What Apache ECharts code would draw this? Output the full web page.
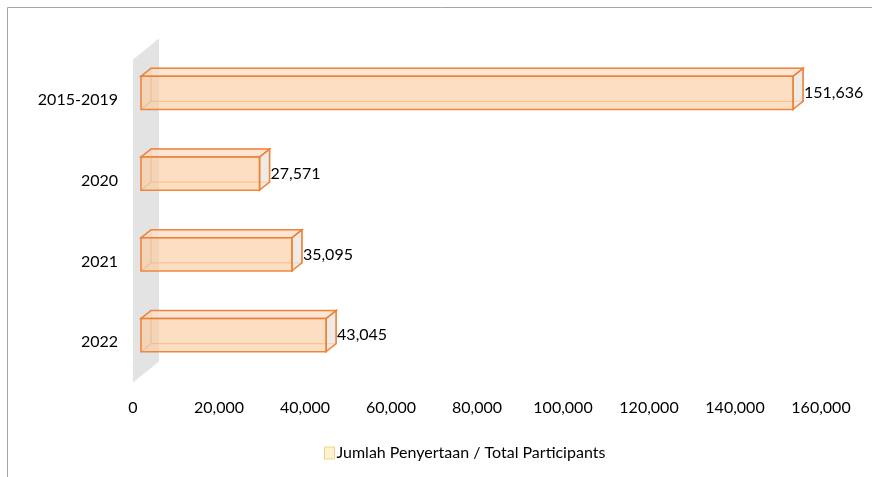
<!DOCTYPE html>
<html>
<head>
<meta charset="utf-8">
<script src="https://cdn.jsdelivr.net/npm/echarts@6/dist/echarts.min.js"></script>
<style>
  html, body { margin: 0; padding: 0; background: #fff; }
  #chart { width: 872px; height: 477px; }
</style>
</head>
<body>
<div id="chart"></div>
<script>
const categories = ['2015-2019', '2020', '2021', '2022']
const participants = [151636, 27571, 35095, 43045]
const xTicks = [0, 20000, 40000, 60000, 80000, 100000, 120000, 140000, 160000]
const seriesName = 'Jumlah Penyertaan / Total Participants'

const FONT = 'Lato'
const ORANGE = '#ed7d31'
// front face offset from floor front, and box depth (pixels)
const FX = 8, FY = -7, DX = 10, DY = -8
const WALL_DX = 26, WALL_DY = -21

const fmt = v => v.toLocaleString('en-US')

const chart = echarts.init(document.getElementById('chart'))

const renderBox = (params, api) => {
  const cat = api.value(0)
  const val = api.value(1)
  const p0 = api.coord([0, cat])
  const p1 = api.coord([val, cat])
  const h = api.size([0, 1])[1] * 0.41
  const xl = p0[0] + FX, xr = p1[0] + FX
  const yt = p0[1] + FY - h / 2, yb = yt + h
  const edge = { stroke: ORANGE, lineWidth: 1.6, opacity: 0.9 }
  const faint = { stroke: 'rgba(237,125,49,0.6)', lineWidth: 1.3, fill: null }
  return {
    type: 'group',
    children: [
      // back face (seen through)
      { type: 'polygon', shape: { points: [[xl + DX, yt + DY], [xr + DX, yt + DY], [xr + DX, yb + DY], [xl + DX, yb + DY]] },
        style: { fill: 'rgba(250,205,160,0.45)', ...faint } },
      { type: 'line', shape: { x1: xl, y1: yb, x2: xl + DX, y2: yb + DY }, style: faint },
      // top face
      { type: 'polygon', shape: { points: [[xl, yt], [xr, yt], [xr + DX, yt + DY], [xl + DX, yt + DY]] },
        style: { fill: 'rgba(250,222,200,0.85)', ...edge } },
      // right face
      { type: 'polygon', shape: { points: [[xr, yt], [xr + DX, yt + DY], [xr + DX, yb + DY], [xr, yb]] },
        style: { fill: 'rgba(236,228,222,0.85)', ...edge } },
      // front face
      { type: 'rect', shape: { x: xl, y: yt, width: xr - xl, height: h },
        style: { fill: 'rgba(251,205,160,0.7)', ...edge } },
      { type: 'text', style: { x: xr + DX + 1, y: yt + h / 2, text: fmt(val), fill: '#000',
        font: '16px ' + FONT, verticalAlign: 'middle', align: 'left' } }
    ]
  }
}

const renderWall = (params) => {
  const cs = params.coordSys
  const x = cs.x, y = cs.y, hh = cs.height
  return {
    type: 'polygon',
    shape: { points: [[x, y + hh], [x, y], [x + WALL_DX, y + WALL_DY], [x + WALL_DX, y + hh + WALL_DY]] },
    style: { fill: '#e3e3e3' },
    silent: true
  }
}

chart.setOption({
  animation: false,
  textStyle: { fontFamily: FONT },
  graphic: [{
    type: 'rect', shape: { x: 7.5, y: 7.5, width: 900, height: 500 },
    style: { fill: null, stroke: '#a6a6a6', lineWidth: 1 }, z: -10
  }],
  grid: { left: 133, right: 51, top: 59.5, bottom: 94.5 },
  legend: {
    data: [seriesName],
    left: 319, top: 440,
    icon: 'rect', itemWidth: 10, itemHeight: 12, itemGap: 4,
    textStyle: { fontFamily: FONT, fontSize: 16, color: '#000', padding: [0, 0, 0, -3] },
    itemStyle: { color: '#fff2cc', borderColor: '#f6d08a', borderWidth: 1 }
  },
  xAxis: {
    type: 'value',
    min: 0, max: 160000, interval: 20000,
    axisLine: { show: false }, axisTick: { show: false }, splitLine: { show: false },
    axisLabel: { fontSize: 16, color: '#000', fontFamily: FONT, margin: 17,
      formatter: v => xTicks.includes(v) ? fmt(v) : '' }
  },
  yAxis: {
    type: 'category',
    data: categories,
    inverse: true,
    axisLine: { show: false }, axisTick: { show: false }, splitLine: { show: false },
    axisLabel: { fontSize: 16, color: '#000', fontFamily: FONT, margin: 15 }
  },
  series: [
    {
      type: 'custom',
      name: 'wall',
      renderItem: renderWall,
      data: [[0, 0]],
      encode: { x: 1, y: 0 },
      silent: true,
      z: 1
    },
    {
      type: 'custom',
      name: seriesName,
      renderItem: renderBox,
      data: categories.map((c, i) => [i, participants[i]]),
      encode: { x: 1, y: 0 },
      itemStyle: { color: '#fff2cc' },
      z: 2
    }
  ]
})
</script>
</body>
</html>
